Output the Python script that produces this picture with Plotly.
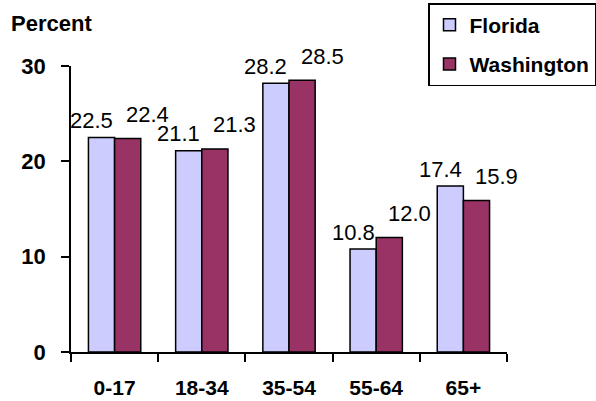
import plotly.graph_objects as go

categories = ["0-17", "18-34", "35-54", "55-64", "65+"]
florida = [22.5, 21.1, 28.2, 10.8, 17.4]
washington = [22.4, 21.3, 28.5, 12.0, 15.9]
y_ticks = [0, 10, 20, 30]

FONT = "Liberation Sans, Arial, sans-serif"
BARGAP = 0.4
half = (1 - BARGAP) / 4  # centre offset of each bar in a group

W, H = 596, 401
ML, MR, MT, MB = 71, 89, 66, 49
PW, PH = W - ML - MR, H - MT - MB

fig = go.Figure()
fig.add_trace(go.Bar(name="Florida", x=categories, y=florida, legendgroup="fl",
                     marker=dict(color="#CCCCFF", line=dict(color="black", width=1.5))))
fig.add_trace(go.Bar(name="Washington", x=categories, y=washington, legendgroup="wa",
                     marker=dict(color="#993366", line=dict(color="black", width=1.5))))

annotations = []
for i, v in enumerate(florida):
    annotations.append(dict(x=i - half, y=v, xref="x", yref="y", text=f"{v:.1f}",
                            showarrow=False, xshift=-10, yshift=17, yanchor="middle",
                            font=dict(family=FONT, size=22, color="black")))
for i, v in enumerate(washington):
    annotations.append(dict(x=i + half, y=v, xref="x", yref="y", text=f"{v:.1f}",
                            showarrow=False, xshift=20, yshift=24, yanchor="middle",
                            font=dict(family=FONT, size=22, color="black")))
annotations.append(dict(x=(9 - ML) / PW, y=1 + (MT - 24) / PH, xref="paper", yref="paper",
                        text="<b>Percent</b>", showarrow=False, xanchor="left", yanchor="middle",
                        font=dict(family=FONT, size=22, color="black")))

fig.update_layout(
    width=W, height=H, autosize=False,
    margin=dict(l=ML, r=MR, t=MT, b=MB, autoexpand=False),
    paper_bgcolor="white", plot_bgcolor="white",
    barmode="group", bargap=BARGAP, bargroupgap=0,
    font=dict(family=FONT, color="black"),
    showlegend=True,
    legend=dict(x=(428 - ML) / PW, y=1 + (MT - 3) / PH,
                xanchor="left", yanchor="top", bgcolor="white",
                bordercolor="black", borderwidth=1.5,
                font=dict(family=FONT, size=21, color="black", weight="bold"),
                itemwidth=30, tracegroupgap=9),
    annotations=annotations,
)
fig.update_xaxes(type="category", range=[-0.5, len(categories) - 0.5], domain=[0, 1],
                 showline=True, linecolor="black", linewidth=1.5,
                 ticks="outside", tickson="boundaries", ticklen=8, tickcolor="black",
                 tickwidth=1.5, showgrid=False, ticklabelstandoff=16,
                 tickfont=dict(family=FONT, size=21, color="black", weight="bold"))
fig.update_yaxes(range=[0, 30], tickvals=y_ticks, showline=True, linecolor="black",
                 linewidth=1.5, ticks="outside", ticklen=8, tickcolor="black",
                 tickwidth=1.5, showgrid=False, zeroline=False, ticklabelstandoff=11,
                 tickfont=dict(family=FONT, size=22, color="black", weight="bold"))

fig.write_html("out.html",
               config={"displayModeBar": False, "responsive": False},
               post_script="document.body.style.margin='0px';document.body.style.overflow='hidden';")
